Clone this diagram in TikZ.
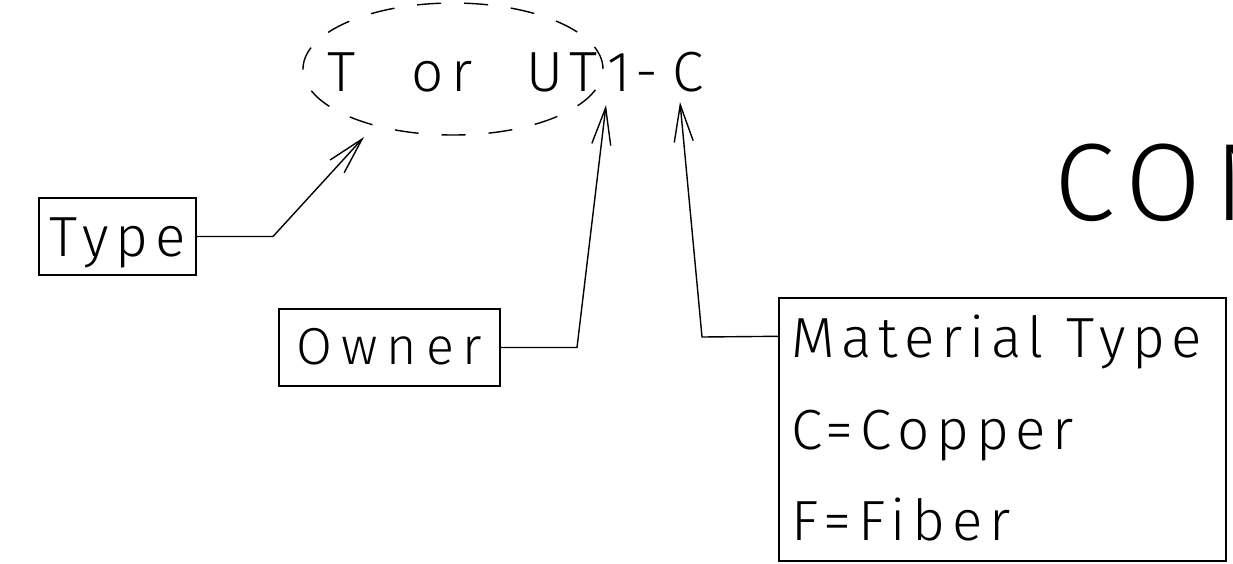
\documentclass[tikz,border=0pt]{standalone}
\usepackage{fontspec}
\IfFontExistsTF{Fira Sans Light}{%
  \setmainfont{Fira Sans Light}[LetterSpace=12]
  \newfontfamily\bigfont{Fira Sans Light}[LetterSpace=12]}{%
  \setmainfont{Fira Sans}[LetterSpace=12]
  \newfontfamily\bigfont{Fira Sans}[LetterSpace=12]}
\usetikzlibrary{arrows.meta,shapes.geometric}
\begin{document}
\begin{tikzpicture}[x=1pt,y=-1pt,
  box/.style={draw, line width=1.4pt, inner sep=0pt, text depth=0pt},
  capA/.style={font=\fontsize{56.6}{60}\selectfont},
  capB/.style={font=\fontsize{52}{56}\selectfont\addfontfeatures{LetterSpace=17}},
  txt/.style={inner sep=0pt, capA},
  arr/.style={line width=1.4pt, -{Straight Barb[length=37pt,width=19pt]}},
  dashring/.style={draw, ellipse, line width=1.4pt, dash pattern=on 24pt off 23pt, inner sep=0pt}]
\useasboundingbox (0,0) rectangle (1233,563);
\fill[white] (0,0) rectangle (1233,563);
\clip (0,0) rectangle (1233,563);
% top label
\node[dashring, minimum width=300pt, minimum height=132pt] (ell) at (453,69) {};
\node[txt, anchor=base] (tT) at (342,91) {T};
\node[txt, anchor=base] (tor) at (442,91) {or};
\node[txt, anchor=base] (tUT) at (562,91) {UT};
\node[txt, anchor=base] (t1) at (619,91) {1};
\node[txt, anchor=base] (tdash) at (647,91) {-};
\node[txt, anchor=base] (tC) at (688,91) {C};
% big partial title (cut by the right edge, as in the reference)
\node[inner sep=0pt, anchor=base west, font=\bigfont\fontsize{110}{110}\selectfont] (con) at (1054,220) {CON};
% boxes
\node[box, capA, text height=39pt, minimum width=157pt, minimum height=77pt] (type) at (117.5,236.5) {Type};
\node[box, capB, text height=33pt, minimum width=221pt, minimum height=77pt] (owner) at (389.5,347.5) {Owner};
\node[box, minimum width=447pt, minimum height=263pt] (mat) at (1002.5,429.5) {};
\node[txt, anchor=base west] (m1) at (791,357) {Material Type};
\node[txt, anchor=base west] (m2) at (791,449) {C=Copper};
\node[txt, anchor=base west] (m3) at (791,540) {F=Fiber};
% arrow tips
\coordinate (tipA) at (364,137);
\coordinate (tipB) at (606,105);
\coordinate (tipC) at (680,102);
\draw[arr] (type.east) -- (273,236.5) -- (tipA);
\draw[arr] (owner.east) -- (577,347.5) -- (tipB);
\draw[arr] ([yshift=-39pt]mat.north west) -- (702,337) -- (tipC);
\end{tikzpicture}
\end{document}
